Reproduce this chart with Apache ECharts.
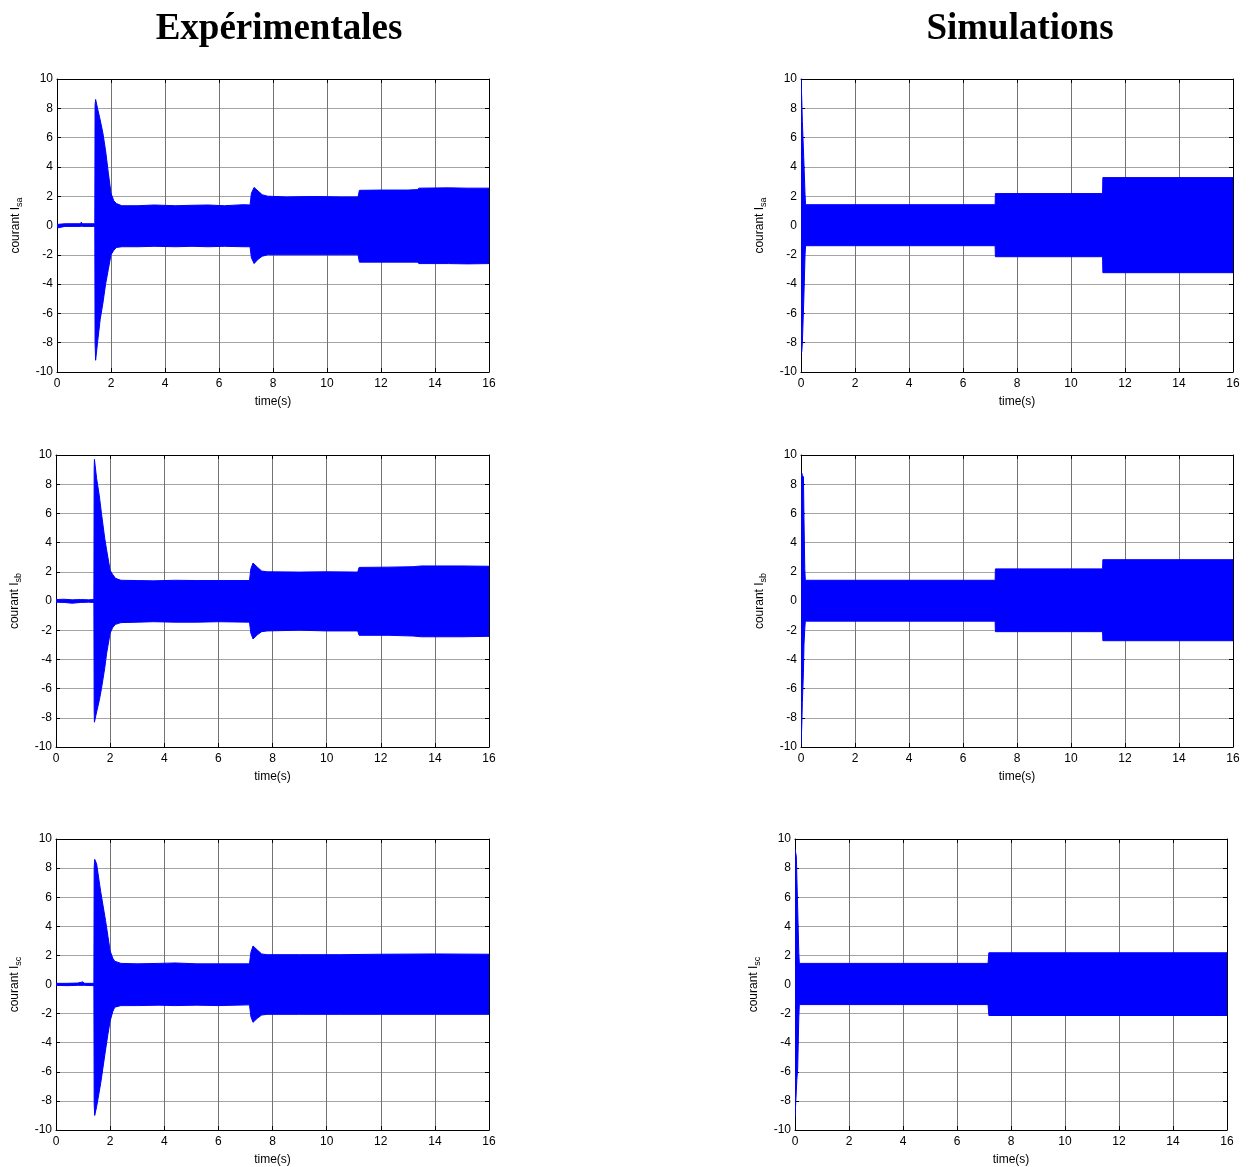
<!DOCTYPE html>
<html>
<head>
<meta charset="utf-8">
<script src="https://cdn.jsdelivr.net/npm/echarts@6/dist/echarts.min.js"></script>
<style>
  html, body { margin: 0; padding: 0; background: #ffffff; }
  #chart { width: 1249px; height: 1167px; }
</style>
</head>
<body>
<div id="chart"></div>
<script>
// Stator phase currents: envelope of the fast oscillation, rows are [time (s), upper peak (A), lower peak (A)]
const isaExp = [
  [0, 0.1, -0.1], [0.05, 0.08, -0.15], [0.3, 0.12, -0.06], [0.85, 0.12, -0.06], [0.9, 0.22, -0.05],
  [0.95, 0.12, -0.06], [1.4, 0.12, -0.06], [1.41, 8.2, -8.0], [1.43, 8.6, -9.2], [1.5, 8.0, -8.0],
  [1.6, 7.2, -6.4], [1.7, 6.3, -5.3], [1.8, 5.1, -4.0], [1.9, 3.6, -3.0], [2.0, 2.2, -2.0],
  [2.1, 1.7, -1.7], [2.2, 1.5, -1.5], [2.4, 1.35, -1.45], [3.0, 1.35, -1.45], [3.6, 1.4, -1.42],
  [4.4, 1.35, -1.45], [5.0, 1.38, -1.42], [5.6, 1.4, -1.45], [6.2, 1.35, -1.42], [6.9, 1.42, -1.45],
  [7.15, 1.4, -1.45], [7.2, 2.2, -2.2], [7.3, 2.6, -2.6], [7.45, 2.35, -2.3], [7.6, 2.1, -2.1],
  [7.8, 2.0, -2.0], [8.5, 1.95, -2.0], [9.5, 1.98, -2.0], [10.5, 1.95, -2.0], [11.15, 1.95, -2.0],
  [11.2, 2.4, -2.5], [12.0, 2.42, -2.5], [13.0, 2.42, -2.5], [13.35, 2.45, -2.5], [13.4, 2.55, -2.6],
  [14.5, 2.57, -2.6], [15.2, 2.55, -2.62], [16, 2.55, -2.6]
];
const isbExp = [
  [0, 0.1, -0.08], [0.3, 0.12, -0.1], [0.6, 0.08, -0.15], [0.9, 0.1, -0.1], [1.2, 0.08, -0.08],
  [1.4, 0.1, -0.1], [1.41, 9.0, -7.5], [1.42, 9.7, -8.3], [1.5, 8.4, -7.6], [1.6, 7.2, -6.8],
  [1.68, 6.0, -6.0], [1.8, 4.3, -4.6], [1.87, 3.5, -3.6], [2.0, 2.1, -2.2], [2.1, 1.8, -1.8],
  [2.2, 1.55, -1.6], [2.4, 1.42, -1.48], [3.0, 1.4, -1.45], [3.6, 1.38, -1.42], [4.4, 1.42, -1.45],
  [5.2, 1.4, -1.45], [6.0, 1.4, -1.42], [7.15, 1.4, -1.45], [7.2, 2.2, -2.2], [7.28, 2.6, -2.6],
  [7.45, 2.3, -2.3], [7.6, 2.05, -2.1], [7.8, 2.0, -2.05], [9.0, 1.98, -2.0], [10.0, 2.0, -2.05],
  [11.15, 1.98, -2.05], [11.2, 2.3, -2.35], [12.3, 2.32, -2.35], [13.2, 2.35, -2.4], [13.5, 2.4, -2.45],
  [15.0, 2.4, -2.45], [16, 2.38, -2.42]
];
const iscExp = [
  [0, 0.08, -0.06], [0.4, 0.08, -0.08], [0.8, 0.1, -0.06], [1.0, 0.18, -0.06], [1.05, 0.08, -0.06],
  [1.4, 0.08, -0.08], [1.41, 8.0, -8.2], [1.43, 8.6, -9.0], [1.5, 8.3, -8.4], [1.65, 6.4, -6.8],
  [1.83, 4.4, -4.5], [1.92, 3.3, -3.4], [2.0, 2.3, -2.5], [2.1, 1.8, -1.85], [2.17, 1.6, -1.56],
  [2.4, 1.45, -1.45], [3.0, 1.42, -1.45], [3.8, 1.45, -1.42], [4.4, 1.48, -1.45], [5.2, 1.42, -1.42],
  [6.0, 1.42, -1.45], [7.15, 1.42, -1.4], [7.2, 2.2, -2.2], [7.28, 2.65, -2.6], [7.45, 2.35, -2.3],
  [7.6, 2.1, -2.1], [7.8, 2.05, -2.05], [9.0, 2.05, -2.05], [10.5, 2.05, -2.05], [12.0, 2.08, -2.05],
  [14.0, 2.1, -2.05], [16, 2.08, -2.05]
];
const isaSim = [
  [0, 10, -8.7], [0.03, 8.5, -8.6], [0.05, 7.1, -8.0], [0.1, 4.7, -5.3], [0.15, 2.1, -2.0],
  [0.17, 1.42, -1.38], [7.19, 1.42, -1.38], [7.2, 2.18, -2.13], [11.17, 2.18, -2.13],
  [11.18, 3.27, -3.22], [16, 3.27, -3.22]
];
const isbSim = [
  [0, 8.2, -9.8], [0.03, 8.75, -8.5], [0.05, 8.6, -6.95], [0.09, 8.5, -4.9], [0.11, 5.7, -3.0],
  [0.14, 2.2, -1.9], [0.16, 1.42, -1.38], [7.19, 1.42, -1.38], [7.2, 2.2, -2.1], [11.17, 2.2, -2.1],
  [11.18, 2.83, -2.72], [16, 2.83, -2.72]
];
const iscSim = [
  [0, 9.3, -9.1], [0.05, 8.8, -7.3], [0.07, 7.3, -6.5], [0.1, 5.2, -5.8], [0.14, 2.2, -2.3],
  [0.16, 1.45, -1.38], [7.15, 1.45, -1.38], [7.18, 2.18, -2.13], [16, 2.18, -2.13]
];

// Axis ranges and labels
const timeRange = [0, 16, 2];
const currentRange = [-10, 10, 2];
const columnTitles = ['Expérimentales', 'Simulations'];
const timeLabel = 'time(s)';
const phaseSubscripts = ['sa', 'sb', 'sc'];

const BLUE = '#0000ff';
const FONT = 'Liberation Sans, Arial, sans-serif';

// Plot boxes (pixels): left, top, width, height
const panels = [
  { box: [57, 79, 432, 293],  data: isaExp, sub: phaseSubscripts[0] },
  { box: [801, 79, 432, 293], data: isaSim, sub: phaseSubscripts[0] },
  { box: [56, 455, 433, 292], data: isbExp, sub: phaseSubscripts[1] },
  { box: [801, 455, 432, 292], data: isbSim, sub: phaseSubscripts[1] },
  { box: [56, 839, 433, 293], data: iscExp, sub: phaseSubscripts[2] },
  { box: [795, 839, 432, 293], data: iscSim, sub: phaseSubscripts[2] }
];

// One filled polygon per panel: upper peaks left to right, then lower peaks back
function bandRenderer(rows) {
  return function (params, api) {
    if (params.dataIndex !== 0) return null;
    const pts = [];
    for (let k = 0; k < rows.length; k++) pts.push(api.coord([rows[k][0], rows[k][1]]));
    for (let k = rows.length - 1; k >= 0; k--) pts.push(api.coord([rows[k][0], rows[k][2]]));
    return {
      type: 'polygon',
      shape: { points: pts },
      style: { fill: BLUE, stroke: BLUE, lineWidth: 1 },
      silent: true
    };
  };
}

const grid = [], xAxis = [], yAxis = [], series = [];

panels.forEach((p, i) => {
  const [left, top, width, height] = p.box;
  grid.push({ left, top, width, height, containLabel: false });

  const frameLine = { show: true, onZero: false, lineStyle: { color: '#000', width: 1 } };
  const innerTick = { show: true, inside: true, length: 4, lineStyle: { color: '#000', width: 1 } };

  // bottom time axis with labels and vertical grid lines
  xAxis.push({
    type: 'value', gridIndex: i, position: 'bottom',
    min: timeRange[0], max: timeRange[1], interval: timeRange[2],
    axisLine: frameLine, axisTick: innerTick,
    axisLabel: { color: '#000', fontSize: 12, fontFamily: FONT, margin: 6 },
    splitLine: { show: true, lineStyle: { color: '#737373', width: 1 } },
    name: timeLabel, nameLocation: 'middle', nameGap: 24,
    nameTextStyle: { color: '#000', fontSize: 12, fontFamily: FONT }
  });
  // top frame edge
  xAxis.push({
    type: 'value', gridIndex: i, position: 'top',
    min: timeRange[0], max: timeRange[1], interval: timeRange[2],
    axisLine: frameLine, axisTick: innerTick,
    axisLabel: { show: false }, splitLine: { show: false }
  });
  // left current axis with labels and horizontal grid lines
  yAxis.push({
    type: 'value', gridIndex: i, position: 'left',
    min: currentRange[0], max: currentRange[1], interval: currentRange[2],
    axisLine: frameLine, axisTick: innerTick,
    axisLabel: { color: '#000', fontSize: 12, fontFamily: FONT, margin: 4 },
    splitLine: { show: true, lineStyle: { color: '#a4a4a4', width: 1 } },
    name: '{m|courant I}{s|' + p.sub + '}',
    nameLocation: 'middle', nameGap: 33, nameRotate: 90,
    nameTextStyle: {
      color: '#000', fontFamily: FONT,
      rich: {
        m: { fontSize: 12, fontFamily: FONT, color: '#000' },
        s: { fontSize: 9, fontFamily: FONT, color: '#000', padding: [7, 0, 0, 0] }
      }
    }
  });
  // right frame edge
  yAxis.push({
    type: 'value', gridIndex: i, position: 'right',
    min: currentRange[0], max: currentRange[1], interval: currentRange[2],
    axisLine: frameLine, axisTick: innerTick,
    axisLabel: { show: false }, splitLine: { show: false }
  });

  series.push({
    type: 'custom', xAxisIndex: 2 * i, yAxisIndex: 2 * i,
    data: p.data, encode: { x: 0, y: [1, 2] },
    renderItem: bandRenderer(p.data),
    clip: true, silent: true, z: 2
  });
});

const chart = echarts.init(document.getElementById('chart'), null, { renderer: 'canvas' });
chart.setOption({
  animation: false,
  backgroundColor: '#ffffff',
  grid, xAxis, yAxis, series,
  graphic: [
    { type: 'text', x: 279, y: 29, style: { text: columnTitles[0], align: 'center', verticalAlign: 'middle',
      font: 'bold 37px "Liberation Serif", "Times New Roman", serif', fill: '#000' } },
    { type: 'text', x: 1020, y: 29, style: { text: columnTitles[1], align: 'center', verticalAlign: 'middle',
      font: 'bold 37px "Liberation Serif", "Times New Roman", serif', fill: '#000' } }
  ]
});
</script>
</body>
</html>
